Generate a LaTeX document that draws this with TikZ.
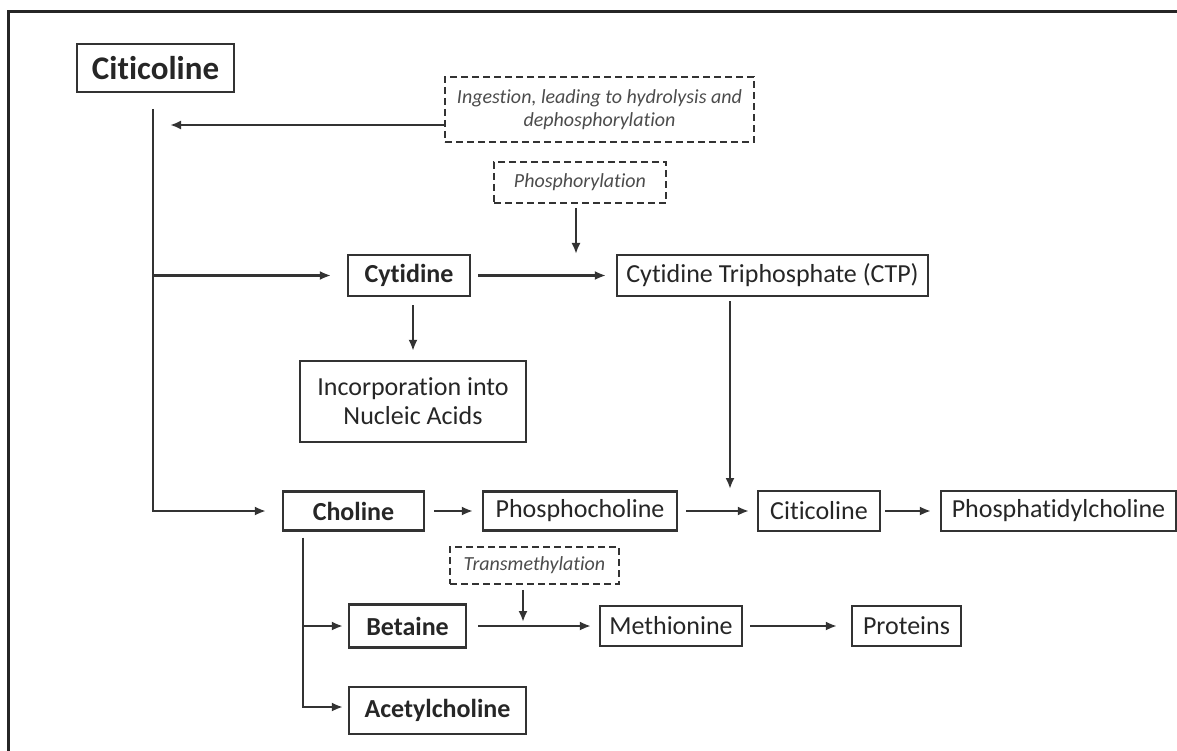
\documentclass[tikz,border=0pt]{standalone}
\usepackage{fontspec}
\setmainfont{Carlito}[Ligatures={NoCommon,NoContextual}]
\usetikzlibrary{arrows.meta}
\colorlet{lnx}{black!80}
\colorlet{txx}{black!85}

\begin{document}
\begin{tikzpicture}[
        x=1pt,y=-1pt,
        box/.style={draw=lnx,line width=2.2pt,text=txx,inner sep=0pt,
            minimum height=41pt,font=\fontsize{26}{29}\selectfont},
        bbox/.style={box,font=\fontsize{26}{29}\selectfont\bfseries},
        note/.style={draw=lnx,line width=1.8pt,dash pattern=on 7pt off 4pt,
            text=black!70,inner sep=0pt,align=center,
            font=\fontsize{20}{23}\selectfont\itshape},
        arr/.style={lnx,line width=2.2pt,-{Latex[length=11pt,width=9pt]}}
    ]
    \useasboundingbox (0,0) rectangle (1177,751);
    \draw[line width=3pt,black!85] (8,751) -- (8,12) -- (1177,12);

    \node[bbox,minimum width=157pt,minimum height=48pt,line width=2.6pt,
        font=\fontsize{33}{36}\selectfont\bfseries] (cit) at (155.5,68) {Citicoline};
    \node[note,minimum width=309pt,minimum height=65pt] (ing) at (599.5,109.5)
        {Ingestion, leading to hydrolysis and\\dephosphorylation};
    \node[note,minimum width=172pt,minimum height=41pt] (phos) at (580,182.5) {Phosphorylation};
    \node[bbox,minimum width=122pt] (cyt) at (409,275.5) {Cytidine};
    \node[box,minimum width=311pt] (ctp) at (772.5,275.5) {Cytidine Triphosphate (CTP)};
    \node[box,minimum width=226pt,minimum height=81pt,align=center] (inc) at (413,401.5)
        {Incorporation into\\Nucleic Acids};
    \node[bbox,minimum width=141pt,minimum height=39pt] (cho) at (353.5,511) {Choline};
    \node[box,minimum width=194pt,minimum height=39pt] (pcho) at (580,511) {Phosphocholine};
    \node[box,minimum width=122pt,minimum height=40pt] (citi) at (819,511) {Citicoline};
    \node[box,minimum width=235pt,minimum height=40pt] (ptc) at (1058.5,511) {Phosphatidylcholine};
    \node[note,minimum width=169pt,minimum height=37pt] (trans) at (534.5,565.5) {Transmethylation};
    \node[bbox,minimum width=117pt,minimum height=43pt] (bet) at (407.5,626) {Betaine};
    \node[box,minimum width=142pt,minimum height=40pt] (met) at (671,626) {Methionine};
    \node[box,minimum width=109pt,minimum height=40pt] (prot) at (906.5,626) {Proteins};
    \node[bbox,minimum width=177pt,minimum height=47pt] (ace) at (437.5,710.5) {Acetylcholine};

    \coordinate (trtop) at (153,109);
    \coordinate (ingend) at (170,125);
    \coordinate (phosj) at (576,272);
    \coordinate (ctpj) at (730,511);
    \coordinate (chob) at (303,707);
    \coordinate (transj) at (523,626);

    \draw[arr,shorten >=16pt] (trtop) -- (trtop |- cho) -- (cho.west);
    \draw[arr,shorten >=16pt] (trtop |- cyt) -- (cyt.west);
    \draw[arr] (ing.west |- ingend) -- (ingend);
    \draw[arr,shorten <=7pt,shorten >=10pt] (cyt) -- (ctp);
    \draw[arr,shorten <=4pt,shorten >=18pt] (phos.south -| phosj) -- (phosj);
    \draw[arr,shorten <=8pt,shorten >=9pt] (cyt.south -| inc) -- (inc.north);
    \draw[arr,shorten <=4pt,shorten >=22pt] (ctp.south -| ctpj) -- (ctpj);
    \draw[arr,shorten <=9pt,shorten >=9pt] (cho) -- (pcho);
    \draw[arr,shorten <=8pt,shorten >=8pt] (pcho) -- (citi);
    \draw[arr,shorten <=4pt,shorten >=9pt] (citi) -- (ptc);
    \draw[arr,shorten <=6pt,shorten >=5pt] (chob |- cho.south) -- (chob) -- (ace.west |- chob);
    \draw[arr,shorten >=5pt] (chob |- bet) -- (bet.west);
    \draw[arr,shorten <=11pt,shorten >=8pt] (bet) -- (met);
    \draw[arr,shorten <=5pt,shorten >=4pt] (trans.south -| transj) -- (transj);
    \draw[arr,shorten <=7pt,shorten >=14pt] (met) -- (prot);
\end{tikzpicture}
\end{document}
